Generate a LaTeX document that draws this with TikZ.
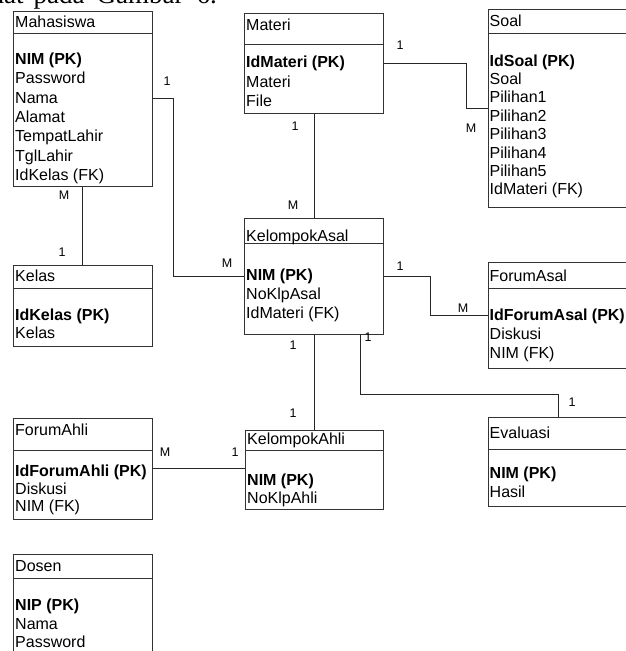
\documentclass[tikz,border=0pt]{standalone}
\usepackage{fontspec}
\newfontfamily\erdfont{Liberation Sans}
\newfontfamily\bodyfont{Liberation Serif}
\begin{document}
\begin{tikzpicture}[x=1pt,y=-1pt,
  entity/.style={draw=black!80, line width=0.9pt, rectangle, inner sep=0pt,
                 anchor=north west},
  sepline/.style={draw=black!80, line width=0.9pt},
  conn/.style={draw=black!85, line width=0.9pt},
  attr/.style={anchor=base west, inner sep=0pt,
               font=\erdfont\fontsize{16}{18}\selectfont},
  key/.style={attr, font=\erdfont\bfseries\fontsize{16}{18}\selectfont},
  card/.style={inner sep=0pt, font=\erdfont\fontsize{12.5}{14}\selectfont}]
\clip (0,0) rectangle (626,651);

% line of running text above the figure
\node[anchor=base east, inner sep=0pt, font=\bodyfont\fontsize{27}{30}\selectfont]
  (caption) at (217,3.5) {lihat\hspace{10pt}pada\hspace{12pt}Gambar\hspace{13pt}6.};

% ---------------- entities ----------------
% Mahasiswa
\node[entity, minimum width=139pt, minimum height=175pt] (mhs) at (13,11) {};
\draw[sepline] (13,33) -- (152,33);
\node[attr] (mhs-h) at (15,27) {Mahasiswa};
\node[key]  (mhs-1) at (15,64.3) {NIM (PK)};
\node[attr] (mhs-2) at (15,83.6) {Password};
\node[attr] (mhs-3) at (15,103) {Nama};
\node[attr] (mhs-4) at (15,122.3) {Alamat};
\node[attr] (mhs-5) at (15,141.6) {TempatLahir};
\node[attr] (mhs-6) at (15,161) {TglLahir};
\node[attr] (mhs-7) at (15,180.3) {IdKelas (FK)};

% Materi
\node[entity, minimum width=139pt, minimum height=100pt] (mat) at (244,13) {};
\draw[sepline] (244,44) -- (383,44);
\node[attr] (mat-h) at (246,30) {Materi};
\node[key]  (mat-1) at (246,67.7) {IdMateri (PK)};
\node[attr] (mat-2) at (246,87) {Materi};
\node[attr] (mat-3) at (246,106.3) {File};

% Soal
\node[entity, minimum width=152pt, minimum height=198pt] (soal) at (488,9) {};
\draw[sepline] (488,33) -- (640,33);
\node[attr] (soal-h) at (489.5,26.7) {Soal};
\node[key]  (soal-1) at (489.5,66) {IdSoal (PK)};
\node[attr] (soal-2) at (489.5,84.4) {Soal};
\node[attr] (soal-3) at (489.5,102.8) {Pilihan1};
\node[attr] (soal-4) at (489.5,121.2) {Pilihan2};
\node[attr] (soal-5) at (489.5,139.6) {Pilihan3};
\node[attr] (soal-6) at (489.5,158) {Pilihan4};
\node[attr] (soal-7) at (489.5,176.4) {Pilihan5};
\node[attr] (soal-8) at (489.5,194.8) {IdMateri (FK)};

% Kelas
\node[entity, minimum width=139pt, minimum height=81pt] (kls) at (13,265) {};
\draw[sepline] (13,288) -- (152,288);
\node[attr] (kls-h) at (15,281.7) {Kelas};
\node[key]  (kls-1) at (15,320) {IdKelas (PK)};
\node[attr] (kls-2) at (15,338.5) {Kelas};

% KelompokAsal
\node[entity, minimum width=139pt, minimum height=116pt] (kasal) at (244,218) {};
\draw[sepline] (244,243) -- (383,243);
\node[attr] (kasal-h) at (246,241) {KelompokAsal};
\node[key]  (kasal-1) at (246,280) {NIM (PK)};
\node[attr] (kasal-2) at (246,299.3) {NoKlpAsal};
\node[attr] (kasal-3) at (246,318.3) {IdMateri (FK)};

% ForumAsal
\node[entity, minimum width=152pt, minimum height=106pt] (fasal) at (488,262) {};
\draw[sepline] (488,288) -- (640,288);
\node[attr] (fasal-h) at (489.5,281.7) {ForumAsal};
\node[key]  (fasal-1) at (489.5,320) {IdForumAsal (PK)};
\node[attr] (fasal-2) at (489.5,339.3) {Diskusi};
\node[attr] (fasal-3) at (489.5,358) {NIM (FK)};

% ForumAhli
\node[entity, minimum width=139pt, minimum height=101pt] (fahli) at (13,418) {};
\draw[sepline] (13,450) -- (152,450);
\node[attr] (fahli-h) at (15,435) {ForumAhli};
\node[key]  (fahli-1) at (15,476.7) {IdForumAhli (PK)};
\node[attr] (fahli-2) at (15,494) {Diskusi};
\node[attr] (fahli-3) at (15,511) {NIM (FK)};

% KelompokAhli
\node[entity, minimum width=138pt, minimum height=79pt] (kahli) at (245,429.5) {};
\draw[sepline] (245,450) -- (383,450);
\node[attr] (kahli-h) at (247,444) {KelompokAhli};
\node[key]  (kahli-1) at (247,485) {NIM (PK)};
\node[attr] (kahli-2) at (247,503) {NoKlpAhli};

% Evaluasi
\node[entity, minimum width=152pt, minimum height=89pt] (eval) at (488,417) {};
\draw[sepline] (488,449.5) -- (640,449.5);
\node[attr] (eval-h) at (489.5,438.3) {Evaluasi};
\node[key]  (eval-1) at (489.5,478.3) {NIM (PK)};
\node[attr] (eval-2) at (489.5,497.7) {Hasil};

% Dosen
\node[entity, minimum width=139pt, minimum height=110pt] (dsn) at (13,554) {};
\draw[sepline] (13,578) -- (152,578);
\node[attr] (dsn-h) at (15,571.7) {Dosen};
\node[key]  (dsn-1) at (15,610) {NIP (PK)};
\node[attr] (dsn-2) at (15,629) {Nama};
\node[attr] (dsn-3) at (15,647) {Password};

% ---------------- relationships ----------------
\draw[conn] (mhs.east |- 0,98.3) -- (173.3,98.3) -- (173.3,276.7) -- (kasal.west |- 0,276.7);
\draw[conn] (mhs.south -| 82,0) -- (kls.north -| 82,0);
\draw[conn] (mat.east |- 0,63) -- (466,63) -- (466,108) -- (soal.west |- 0,108);
\draw[conn] (mat.south -| 314,0) -- (kasal.north -| 314,0);
\draw[conn] (kasal.east |- 0,276) -- (430,276) -- (430,315) -- (fasal.west |- 0,315);
\draw[conn] (kasal.south -| 314,0) -- (kahli.north -| 314,0);
\draw[conn] (kasal.south -| 360,0) -- (360,394) -- (558,394) -- (eval.north -| 558,0);
\draw[conn] (fahli.east |- 0,468) -- (kahli.west |- 0,468);

% cardinalities
\node[card] (c1)  at (167,81)  {1};
\node[card] (c2)  at (227,263) {M};
\node[card] (c3)  at (64,195)  {M};
\node[card] (c4)  at (62,252)  {1};
\node[card] (c5)  at (400,45)  {1};
\node[card] (c6)  at (471,128) {M};
\node[card] (c7)  at (295,126) {1};
\node[card] (c8)  at (293,205) {M};
\node[card] (c9)  at (400,266) {1};
\node[card] (c10) at (463,308) {M};
\node[card] (c11) at (293,345) {1};
\node[card] (c12) at (293,413) {1};
\node[card] (c13) at (368,337) {1};
\node[card] (c14) at (572,402) {1};
\node[card] (c15) at (165,452) {M};
\node[card] (c16) at (235,452) {1};
\end{tikzpicture}
\end{document}
